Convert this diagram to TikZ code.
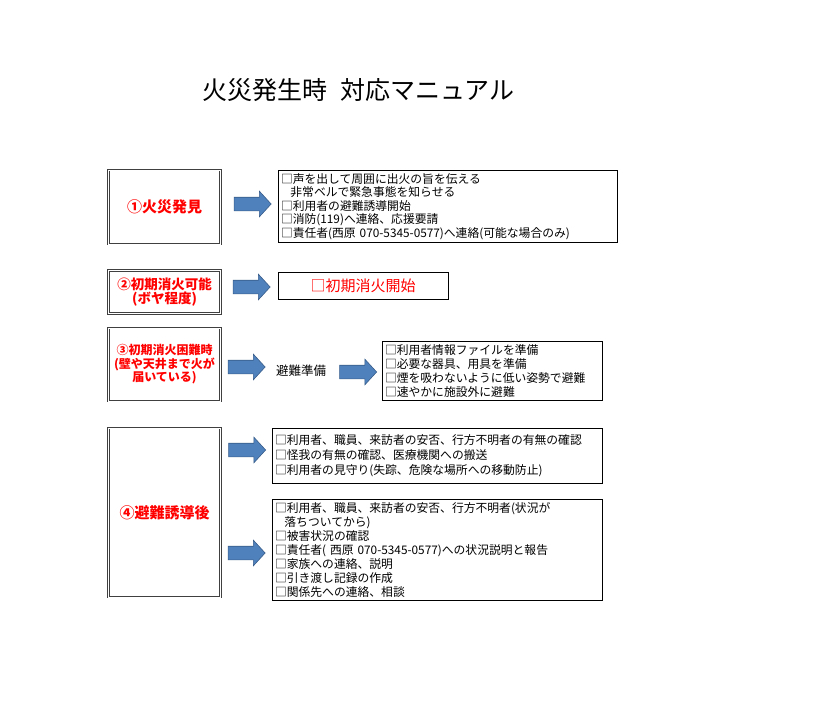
\documentclass[tikz,border=0pt]{standalone}
\usepackage{fontspec}
\setmainfont{Noto Sans CJK JP}
\usetikzlibrary{shapes.arrows}
\definecolor{arrowfill}{RGB}{79,129,189}
\definecolor{arrowline}{RGB}{56,93,138}
\definecolor{labelred}{RGB}{255,0,0}

\begin{document}
\begin{tikzpicture}[x=1pt, y=-1pt,
		stage/.style={draw=black!75, line width=0.9pt, double=white, double distance=0.9pt, minimum width=112pt, inner sep=0pt, align=center, text=labelred, font=\bfseries\fontsize{15}{18}\selectfont},
		todo/.style={draw, line width=1pt, inner sep=3pt, align=left, font=\fontsize{11.8}{14}\selectfont},
		blockarrow/.style={single arrow, draw=arrowline, fill=arrowfill, line width=0.6pt, minimum width=25pt, minimum height=37pt, single arrow head extend=6pt, single arrow tip angle=95, inner xsep=0pt, inner ysep=6.5pt}]
			\useasboundingbox (0,0) rectangle (827,709);
			\draw (358.5,90) node [font=\fontsize{25}{28}\selectfont] (title) {火災発生時\hspace{0.5em}対応マニュアル};
			% 1
			\draw (164.5,207) node [stage, minimum height=74pt] (find) {①火災発見};
			\draw (249.5,204) node [blockarrow] (a1) {};
			\draw (447.5,206.5) node [todo, text width=333pt, minimum height=71pt, font=\fontsize{11.8}{13.6}\selectfont] (alarm) {□声を出して周囲に出火の旨を伝える\\\hspace*{0.8em}非常ベルで緊急事態を知らせる\\□利用者の避難誘導開始\\□消防(119)へ連絡、応援要請\\□責任者(西原 070-5345-0577)へ連絡(可能な場合のみ)};
			% 2
			\draw (164.5,292) node [stage, minimum height=43pt, font=\bfseries\fontsize{13.5}{14}\selectfont] (small) {②初期消火可能\\(ボヤ程度)};
			\draw (248.5,287) node [blockarrow] (a2) {};
			\draw (363,285.5) node [todo, text width=164pt, minimum height=27pt, align=center, text=labelred, font=\fontsize{15}{18}\selectfont] (fight) {□初期消火開始};
			% 3
			\draw (164.5,364.5) node [stage, minimum height=73pt, font=\bfseries\fontsize{12}{13.5}\selectfont] (big) {③初期消火困難時\\(壁や天井まで火が\\届いている)};
			\draw (243.5,367) node [blockarrow] (a3) {};
			\draw (301,371) node [font=\fontsize{12.5}{14}\selectfont] (prep) {避難準備};
			\draw (355,372) node [blockarrow] (a3b) {};
			\draw (492,371) node [todo, text width=214pt, minimum height=56pt] (evac) {□利用者情報ファイルを準備\\□必要な器具、用具を準備\\□煙を吸わないように低い姿勢で避難\\□速やかに施設外に避難};
			% 4
			\draw (164.5,512.5) node [stage, minimum height=169pt] (after) {④避難誘導後};
			\draw (244,450) node [blockarrow] (a4) {};
			\draw (437,455.5) node [todo, text width=324pt, minimum height=55pt, font=\fontsize{11.8}{15}\selectfont] (check) {□利用者、職員、来訪者の安否、行方不明者の有無の確認\\□怪我の有無の確認、医療機関への搬送\\□利用者の見守り(失踪、危険な場所への移動防止)};
			\draw (243.5,553) node [blockarrow] (a4b) {};
			\draw (437,550) node [todo, text width=324pt, minimum height=96pt, font=\fontsize{11.8}{13.9}\selectfont] (report) {□利用者、職員、来訪者の安否、行方不明者(状況が\\\hspace*{0.8em}落ちついてから)\\□被害状況の確認\\□責任者( 西原 070-5345-0577)への状況説明と報告\\□家族への連絡、説明\\□引き渡し記録の作成\\□関係先への連絡、相談};
		\end{tikzpicture}
\end{document}
